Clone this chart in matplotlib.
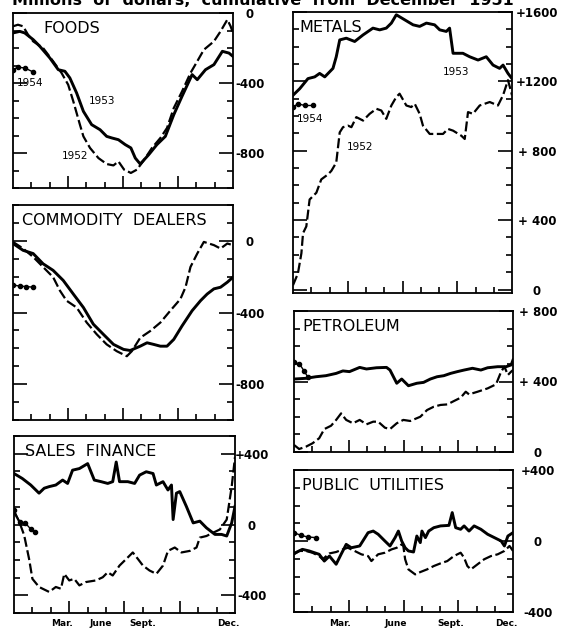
import matplotlib
matplotlib.use("Agg")
import matplotlib.pyplot as plt
from matplotlib.ticker import FixedLocator, MultipleLocator

# ---- data: months from start of year (0 = Jan 1, 12 = Dec 31), millions of dollars
foods_52_m = [0, 0.27, 0.55, 0.82, 1.1, 1.64, 2.19, 2.65, 3.01, 3.29, 3.65, 3.84, 4.2, 4.66, 5.11, 5.48, 5.75,
              6.06, 6.43, 6.76, 7.12, 7.58, 8.04, 8.4, 8.77, 9.22, 9.68, 10.05, 10.41, 10.96, 11.32, 11.69, 11.87, 12]
foods_52_v = [-76, -67, -76, -124, -162, -200, -276, -343, -410, -505, -638, -705, -771, -829, -863, -871, -848,
              -895, -914, -895, -844, -771, -714, -657, -543, -448, -343, -276, -210, -162, -105, -38, -76, -114]
foods_53_m = [0, 0.37, 0.64, 1.1, 1.46, 2.01, 2.47, 2.83, 3.1, 3.47, 3.84, 4.29, 4.75, 5.11, 5.39, 5.75, 6.12,
              6.43, 6.67, 6.94, 7.4, 7.85, 8.31, 8.77, 9.22, 9.77, 10.05, 10.5, 10.96, 11.42, 11.78, 12]
foods_53_v = [-114, -105, -114, -152, -190, -257, -324, -333, -371, -457, -562, -638, -667, -705, -714, -724, -752,
              -771, -829, -863, -810, -752, -705, -581, -476, -352, -381, -324, -295, -219, -229, -248]
foods_54_m = [0, 0.27, 0.64, 1.1]
foods_54_v = [-324, -310, -314, -337]

comm_52_m = [0, 0.55, 1.1, 1.64, 2.19, 2.56, 2.92, 3.47, 4.02, 4.57, 5.11, 5.66, 6.21, 6.48, 6.94, 7.49, 8.04,
             8.58, 9.13, 9.41, 9.68, 10.05, 10.41, 10.96, 11.32, 11.69, 12]
comm_52_v = [-6, -43, -90, -146, -203, -278, -334, -372, -456, -522, -578, -616, -644, -616, -541, -503, -456,
             -390, -325, -259, -146, -71, -6, -24, -43, -15, -24]
comm_53_m = [0, 0.55, 1.1, 1.64, 2.19, 2.74, 3.29, 3.84, 4.38, 4.93, 5.48, 6.03, 6.39, 6.94, 7.31, 7.67, 8.04,
             8.4, 8.77, 9.22, 9.77, 10.23, 10.59, 10.96, 11.32, 11.69, 12]
comm_53_v = [-15, -53, -71, -128, -165, -221, -297, -372, -465, -522, -578, -606, -612, -588, -569, -578, -588,
             -588, -550, -475, -390, -334, -297, -268, -259, -231, -203]
comm_54_m = [0, 0.37, 0.73, 1.1]
comm_54_v = [-246, -253, -255, -259]

sales_52_m = [0, 0.27, 0.55, 0.82, 1.0, 1.36, 1.91, 2.27, 2.55, 2.73, 3.0, 3.27, 3.55, 3.91, 4.45, 4.82, 5.09,
              5.36, 5.73, 6.18, 6.45, 6.73, 7.0, 7.36, 7.73, 8.09, 8.36, 8.73, 9.09, 9.55, 9.91, 10.09, 10.45,
              10.82, 11.18, 11.55, 11.82, 12.0]
sales_52_v = [70, 20, -60, -195, -307, -353, -381, -353, -363, -279, -316, -307, -344, -325, -316, -298, -270,
              -288, -232, -186, -158, -195, -232, -260, -279, -232, -149, -130, -158, -149, -130, -74, -65,
              -46, -28, 28, 214, 381]
sales_53_m = [0, 0.45, 0.91, 1.36, 1.64, 1.91, 2.27, 2.64, 2.91, 3.18, 3.55, 4.0, 4.36, 4.73, 5.09, 5.36, 5.55,
              5.73, 6.18, 6.55, 6.82, 7.18, 7.55, 7.73, 8.09, 8.36, 8.55, 8.64, 8.82, 9.0, 9.36, 9.73, 10.09,
              10.45, 10.91, 11.27, 11.55, 11.82, 12]
sales_53_v = [288, 260, 223, 177, 205, 214, 223, 251, 232, 307, 316, 344, 251, 242, 232, 242, 353,
              242, 242, 232, 279, 298, 288, 223, 242, 195, 223, 28, 177, 186, 102, 9, 19,
              -19, -56, -56, -65, 9, 102]
sales_54_m = [0, 0.3, 0.6, 0.9, 1.15]
sales_54_v = [84, 15, 10, -25, -45]

metals_52_m = [0, 0.27, 0.46, 0.55, 0.73, 0.91, 1.28, 1.55, 1.92, 2.1, 2.37, 2.56, 2.74, 3.01, 3.2, 3.47, 3.84,
               4.2, 4.57, 4.84, 5.11, 5.39, 5.66, 5.84, 6.21, 6.48, 6.67, 6.94, 7.12, 7.49, 7.85, 8.22, 8.49,
               8.77, 9.22, 9.41, 9.59, 9.86, 10.23, 10.78, 11.23, 11.51, 11.78, 11.93, 12.0]
metals_52_v = [25, 93, 209, 325, 364, 519, 558, 635, 664, 684, 732, 906, 936, 945, 936, 994, 974,
               1013, 1042, 1032, 984, 1061, 1110, 1129, 1061, 1052, 1071, 1013, 945, 897, 897, 897, 926,
               916, 887, 868, 1023, 1013, 1061, 1081, 1061, 1120, 1207, 1149, 1120]
metals_53_m = [0, 0.37, 0.82, 1.19, 1.46, 1.74, 2.19, 2.37, 2.56, 2.92, 3.38, 3.84, 4.38, 4.75, 5.11, 5.39, 5.66,
               6.12, 6.58, 6.94, 7.31, 7.76, 8.04, 8.4, 8.58, 8.77, 9.31, 9.68, 10.14, 10.59, 10.96, 11.32,
               11.51, 11.78, 12.0]
metals_53_v = [1120, 1158, 1216, 1226, 1246, 1226, 1275, 1342, 1439, 1449, 1430, 1468, 1507, 1497, 1507, 1536,
               1584, 1555, 1526, 1517, 1536, 1526, 1497, 1488, 1507, 1362, 1362, 1342, 1323, 1342, 1294, 1275,
               1294, 1246, 1216]
metals_54_m = [0, 0.27, 0.64, 1.1]
metals_54_v = [1052, 1071, 1061, 1061]

petro_52_m = [0, 0.28, 0.65, 1.01, 1.38, 1.66, 2.03, 2.31, 2.58, 2.86, 3.23, 3.6, 3.97, 4.34, 4.61, 4.98, 5.26,
              5.63, 5.99, 6.37, 6.92, 7.29, 7.66, 8.03, 8.4, 8.76, 9.13, 9.41, 9.59, 10.06, 10.61, 11.07,
              11.35, 11.53, 11.72, 11.9, 12.0]
petro_52_v = [40, 17, 30, 49, 78, 130, 149, 182, 219, 182, 163, 182, 157, 172, 172, 138, 130,
              163, 182, 176, 200, 238, 257, 267, 270, 289, 308, 342, 327, 342, 361, 384,
              456, 484, 437, 456, 465]
petro_53_m = [0, 0.65, 1.2, 1.75, 2.31, 2.68, 3.04, 3.6, 3.97, 4.52, 5.07, 5.26, 5.63, 5.9, 6.27, 6.73, 7.1,
              7.47, 7.84, 8.21, 8.58, 8.95, 9.32, 9.78, 10.24, 10.61, 11.16, 11.62, 11.9, 12.0]
petro_53_v = [414, 418, 427, 433, 446, 460, 456, 480, 471, 478, 480, 465, 390, 414, 376, 390, 395,
              414, 427, 433, 446, 456, 465, 475, 465, 478, 484, 484, 494, 522]
petro_54_m = [0, 0.3, 0.55, 0.75]
petro_54_v = [509, 500, 460, 427]

util_52_m = [0, 0.28, 0.65, 1.01, 1.38, 1.57, 1.94, 2.31, 2.68, 2.95, 3.32, 3.69, 4.06, 4.24, 4.61, 4.98, 5.35,
             5.63, 5.9, 5.99, 6.09, 6.27, 6.64, 6.92, 7.29, 7.66, 8.03, 8.4, 8.76, 9.13, 9.32, 9.5, 9.69,
             10.06, 10.42, 10.79, 11.16, 11.53, 11.81, 12.0]
util_52_v = [-75, -56, -56, -66, -85, -103, -70, -62, -47, -38, -56, -75, -85, -113, -75, -66, -47,
             -38, -19, -28, -103, -160, -188, -175, -160, -141, -126, -113, -85, -66, -94, -141, -160,
             -131, -103, -85, -75, -56, -28, -56]
util_53_m = [0, 0.46, 0.83, 1.38, 1.66, 1.94, 2.31, 2.58, 2.86, 3.14, 3.6, 4.06, 4.34, 4.61, 4.98, 5.26, 5.54,
             5.72, 5.9, 6.09, 6.27, 6.55, 6.73, 6.92, 7.01, 7.2, 7.38, 7.66, 8.03, 8.49, 8.67, 8.86, 9.13,
             9.32, 9.59, 9.87, 10.24, 10.61, 10.98, 11.35, 11.53, 11.72, 12.0]
util_53_v = [-70, -47, -56, -75, -113, -85, -131, -75, -19, -38, -28, 47, 56, 38, 0, -28, 19,
             56, 0, -38, -56, -62, 28, -9, 56, 19, 56, 75, 85, 88, 160, 75, 66,
             85, 56, 85, 66, 38, 19, 0, -28, 28, 47]
util_54_m = [0, 0.37, 0.74, 1.2]
util_54_v = [47, 32, 23, 19]

month_names = ["Mar.", "June", "Sept.", "Dec."]

W, H = 563, 631
fig = plt.figure(figsize=(W / 100, H / 100), dpi=100)


def box(x0, y0, x1, y1):
    return [x0 / W, 1 - y1 / H, (x1 - x0) / W, (y1 - y0) / H]


def panel(rect, title, ylim, yticks, ylabels, title_off, label_pad, series, month_pos=None):
    ax = fig.add_axes(rect)
    ax.set_xlim(0, 12)
    ax.set_ylim(*ylim)
    for sp in ax.spines.values():
        sp.set_linewidth(1.3)

    m52, v52, m53, v53, m54, v54 = series
    ax.plot(m52, v52, color="black", lw=1.6, ls=(0, (4.5, 1.6)))
    ax.plot(m53, v53, color="black", lw=2.1, solid_joinstyle="round")
    ax.plot(m54, v54, color="black", lw=1.0, marker="o", ms=3)

    ax.xaxis.set_major_locator(FixedLocator([3, 6, 9]))
    ax.xaxis.set_minor_locator(FixedLocator([1, 2, 4, 5, 7, 8, 10, 11]))
    ax.tick_params(axis="x", which="major", direction="in", length=9, width=1.2,
                   top=False, labelbottom=False)
    ax.tick_params(axis="x", which="minor", direction="in", length=4.5, width=1.2, top=False)

    ax.set_yticks(yticks)
    ax.set_yticklabels(ylabels)
    ax.yaxis.set_minor_locator(MultipleLocator(100))
    ax.tick_params(axis="y", which="both", direction="in", left=True, right=True,
                   labelleft=False, labelright=True, width=1.2)
    ax.tick_params(axis="y", which="major", length=10, pad=label_pad, labelsize=8.5)
    ax.tick_params(axis="y", which="minor", length=4.5)
    for lab in ax.get_yticklabels():
        lab.set_fontweight("bold")
        lab.set_ha("center")

    ax.annotate(title, xy=(0, 1), xycoords="axes fraction", xytext=(title_off, -8),
                textcoords="offset pixels", ha="left", va="top", fontsize=11.5)

    if month_pos is not None:
        for m, name in zip(month_pos, month_names):
            ax.annotate(name, xy=(m, 0), xycoords=("data", "axes fraction"), xytext=(0, -11),
                        textcoords="offset pixels", ha="center", va="center",
                        fontsize=6.5, fontweight="bold")
    return ax


ax_foods = panel(box(13, 13, 233, 188), "FOODS", (-1000, 0), [0, -400, -800], ["0", "-400", "-800"],
                 30, 12, (foods_52_m, foods_52_v, foods_53_m, foods_53_v, foods_54_m, foods_54_v))
ax_comm = panel(box(13, 205, 233, 420), "COMMODITY  DEALERS", (-1000, 200), [0, -400, -800],
                ["0", "-400", "-800"], 9, 12,
                (comm_52_m, comm_52_v, comm_53_m, comm_53_v, comm_54_m, comm_54_v))
ax_sales = panel(box(14, 436, 235, 613), "SALES  FINANCE", (-500, 500), [400, 0, -400],
                 ["+400", "0", "-400"], 11, 12,
                 (sales_52_m, sales_52_v, sales_53_m, sales_53_v, sales_54_m, sales_54_v),
                 month_pos=[2.6, 4.7, 7.0, 11.65])
ax_metals = panel(box(293, 12, 512, 293), "METALS", (-20, 1600), [1600, 1200, 800, 400, 0],
                  ["+1600", "+1200", "+ 800", "+ 400", "0"], 6, 18,
                  (metals_52_m, metals_52_v, metals_53_m, metals_53_v, metals_54_m, metals_54_v))
ax_petro = panel(box(294, 311, 513, 452), "PETROLEUM", (0, 800), [800, 400, 0],
                 ["+ 800", "+ 400", "0"], 8, 18,
                 (petro_52_m, petro_52_v, petro_53_m, petro_53_v, petro_54_m, petro_54_v))
ax_util = panel(box(294, 470, 513, 612), "PUBLIC  UTILITIES", (-400, 400), [400, 0, -400],
                ["+400", "0", "-400"], 8, 18,
                (util_52_m, util_52_v, util_53_m, util_53_v, util_54_m, util_54_v),
                month_pos=[2.5, 5.6, 8.6, 11.65])

# year labels
yr = dict(fontsize=7.5, ha="center", va="center")
ax_foods.text(0.2, -400, "1954", ha="left", va="center", fontsize=7.5)
ax_foods.text(4.85, -505, "1953", **yr)
ax_foods.text(3.4, -815, "1952", **yr)
ax_metals.text(0.2, 985, "1954", ha="left", va="center", fontsize=7.5)
ax_metals.text(8.95, 1255, "1953", **yr)
ax_metals.text(3.7, 820, "1952", **yr)

# heading, cut off at the top edge as in the scan
fig.text(12 / W, 1 - 5 / H, "Millions  of  dollars,  cumulative  from  December  1951",
         fontsize=11.5, fontweight="bold", ha="left", va="baseline")

fig.savefig("out.png", dpi=100)
